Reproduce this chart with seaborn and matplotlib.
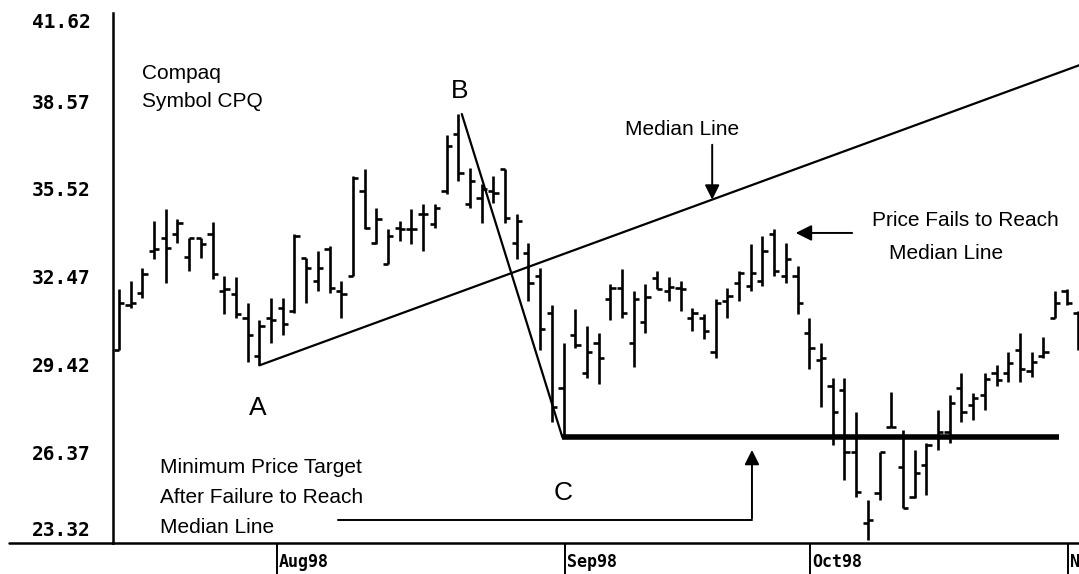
import numpy as np
import pandas as pd
import matplotlib
matplotlib.use('Agg')
import matplotlib.pyplot as plt
import seaborn as sns

# =============================
# DATA (daily OHLC, Compaq CPQ, Jul-Oct 1998)
# =============================
highs = [32.05, 32.33, 32.78, 34.41, 34.83, 34.48, 33.82, 33.82, 34.38, 32.51,
         32.47, 31.54, 30.95, 31.74, 31.74, 33.96, 33.13, 33.37, 33.55, 32.33,
         35.97, 36.21, 34.86, 34.13, 34.41, 34.83, 35.00, 35.00, 37.39, 38.12,
         36.25, 35.69, 35.97, 36.21, 34.65, 33.65, 32.78, 31.47, 30.18, 31.36,
         30.77, 30.50, 32.23, 32.75, 31.99, 32.23, 32.68, 32.47, 32.33, 31.40,
         31.19, 31.71, 32.09, 32.68, 33.61, 33.89, 34.13, 33.65, 32.85, 31.02,
         30.15, 28.94, 28.94, 27.76, 24.71, 26.37, 28.45, 27.13, 26.44, 26.68,
         27.83, 28.35, 29.14, 28.42, 29.14, 29.39, 29.84, 30.50, 29.84, 30.36,
         31.99, 32.05, 31.29]
lows = [29.91, 31.40, 31.74, 33.09, 32.26, 33.65, 32.68, 33.13, 32.40, 31.19,
        31.02, 29.49, 29.39, 30.15, 30.43, 31.22, 31.54, 31.99, 31.92, 31.02,
        32.51, 34.13, 33.61, 32.92, 33.72, 33.61, 33.37, 34.17, 35.35, 35.80,
        34.86, 34.34, 35.04, 34.34, 33.09, 31.64, 29.91, 27.41, 26.89, 30.01,
        28.94, 28.76, 30.95, 31.02, 29.32, 30.53, 32.05, 31.64, 31.29, 30.60,
        30.32, 29.66, 31.02, 31.64, 31.99, 32.16, 32.51, 32.26, 31.19, 29.28,
        27.93, 26.61, 25.40, 24.81, 23.32, 24.71, 27.24, 24.43, 24.78, 24.88,
        26.44, 26.68, 27.41, 27.48, 27.83, 28.69, 28.80, 28.80, 28.97, 29.63,
        31.02, 31.47, 29.91]
opens = [29.91, 31.47, 31.92, 33.37, 33.82, 33.96, 33.16, 33.82, 33.96, 31.99,
         31.88, 31.05, 29.73, 31.02, 31.40, 31.29, 33.13, 32.33, 33.44, 31.99,
         32.51, 35.45, 33.65, 32.92, 34.17, 34.13, 34.65, 34.31, 35.45, 37.43,
         35.00, 35.21, 35.45, 36.21, 33.65, 33.30, 32.51, 31.22, 28.59, 30.43,
         29.11, 30.18, 31.71, 32.09, 30.18, 30.88, 32.44, 31.99, 32.09, 31.05,
         31.02, 29.84, 31.64, 32.26, 32.16, 32.33, 33.96, 32.51, 32.51, 30.50,
         29.56, 28.69, 28.52, 26.37, 23.91, 24.95, 27.24, 25.85, 24.81, 25.92,
         26.89, 27.06, 28.59, 28.00, 28.35, 29.14, 29.11, 29.91, 29.21, 29.73,
         31.02, 31.99, 31.22]
closes = [31.57, 31.57, 32.57, 33.44, 33.48, 34.34, 33.82, 33.61, 32.57, 32.05,
          31.19, 30.43, 30.77, 30.95, 30.84, 33.89, 32.78, 32.78, 32.09, 31.88,
          35.90, 34.17, 34.48, 33.89, 34.13, 34.13, 34.65, 34.86, 37.01, 36.08,
          35.80, 35.52, 35.38, 34.52, 34.41, 32.26, 30.67, 27.93, 26.89, 30.11,
          29.84, 29.63, 32.09, 31.22, 31.71, 31.78, 32.05, 32.12, 32.05, 31.22,
          30.60, 31.54, 31.81, 32.61, 32.61, 33.37, 32.68, 33.09, 31.54, 29.98,
          29.63, 27.76, 26.37, 24.98, 24.01, 26.37, 27.24, 24.43, 25.64, 26.61,
          27.06, 28.07, 27.76, 28.24, 28.90, 28.87, 29.46, 29.28, 29.49, 29.84,
          31.57, 31.54, 30.25]

y_ticks = [23.32, 26.37, 29.42, 32.47, 35.52, 38.57, 41.62]
month_labels = ['Aug98', 'Sep98', 'Oct98', 'Nov98']
month_start = [13.5, 38.1, 59.1, 81.1]  # bar index where each month begins

# pitchfork points (bar index, price)
point_a = (12, 29.39)
point_b = (29.3, 38.12)
point_c = (37.9, 26.89)
median_end = (82.1, 39.82)
target_price = 26.89
target_end = 80.3

df = pd.DataFrame({'high': highs, 'low': lows, 'open': opens, 'close': closes})
df['day'] = np.arange(len(df))

# =============================
# PLOT
# =============================
sns.set_theme(style='white')
plt.rcParams['font.family'] = ['Liberation Sans', 'DejaVu Sans']
plt.rcParams['text.color'] = 'black'
plt.rcParams['xtick.color'] = 'black'
plt.rcParams['ytick.color'] = 'black'

fig = plt.figure(figsize=(10.79, 5.74), dpi=100)
ax = fig.add_axes([113 / 1079, 31 / 574, 966 / 1079, 530 / 574])

# OHLC bars
ax.vlines(df['day'], df['low'], df['high'], color='black', lw=1.9)
ax.hlines(df['open'], df['day'] - 0.45, df['day'], color='black', lw=1.9)
ax.hlines(df['close'], df['day'], df['day'] + 0.45, color='black', lw=1.9)

# median line and B-C leg
sns.lineplot(x=[point_a[0], median_end[0]], y=[point_a[1], median_end[1]],
             color='black', lw=1.6, estimator=None, sort=False, ax=ax)
sns.lineplot(x=[point_b[0], point_c[0]], y=[point_b[1], point_c[1]],
             color='black', lw=1.6, estimator=None, sort=False, ax=ax)
# minimum price target line
ax.plot([point_c[0], target_end], [target_price, target_price], color='black', lw=4, solid_capstyle='butt')

# labels A B C
ax.text(11.9, 27.90, 'A', fontsize=19, ha='center', va='center')
ax.text(29.1, 38.92, 'B', fontsize=19, ha='center', va='center')
ax.text(38.0, 24.95, 'C', fontsize=19, ha='center', va='center')

ax.text(1.97, 39.54, 'Compaq', fontsize=15, ha='left', va='center')
ax.text(1.97, 38.54, 'Symbol CPQ', fontsize=15, ha='left', va='center')

# Median Line annotation
ax.text(48.1, 37.60, 'Median Line', fontsize=15, ha='center', va='center')
ax.annotate('', xy=(50.7, 35.05), xytext=(50.7, 37.15),
            arrowprops=dict(arrowstyle='-|>', color='black', lw=1.4, mutation_scale=22))

# Price fails annotation
ax.text(72.3, 34.41, 'Price Fails to Reach', fontsize=15, ha='center', va='center')
ax.text(70.7, 33.27, 'Median Line', fontsize=15, ha='center', va='center')
ax.annotate('', xy=(57.6, 33.99), xytext=(62.9, 33.99),
            arrowprops=dict(arrowstyle='-|>', color='black', lw=1.4, mutation_scale=24))

# Minimum price target annotation
ax.text(3.5, 25.85, 'Minimum Price Target', fontsize=15, ha='left', va='center')
ax.text(3.5, 24.81, 'After Failure to Reach', fontsize=15, ha='left', va='center')
ax.text(3.5, 23.77, 'Median Line', fontsize=15, ha='left', va='center')
ax.plot([18.7, 54.1], [24.01, 24.01], color='black', lw=1.4)
ax.annotate('', xy=(54.1, 26.55), xytext=(54.1, 23.98),
            arrowprops=dict(arrowstyle='-|>', color='black', lw=1.4, mutation_scale=22))

# axes styling
ax.set_xlim(-0.51, 82.05)
ax.set_ylim(23.22, 41.63)
ax.set_yticks(y_ticks)
ax.set_yticklabels([f'{v:.2f}' for v in y_ticks], family='DejaVu Sans Mono',
                   fontweight='bold', fontsize=14, color='black')
ylabels = ax.get_yticklabels()
ylabels[0].set_va('bottom')
ylabels[-1].set_va('top')
ax.tick_params(axis='y', length=0, pad=16)
ax.set_xticks(month_start)
ax.set_xticklabels([])
ax.tick_params(axis='x', direction='out', length=22, width=1.4, color='black', bottom=True)
for pos, lab in zip(month_start, month_labels):
    ax.text(pos + 0.15, -0.035, lab, transform=ax.get_xaxis_transform(),
            family='DejaVu Sans Mono', fontweight='bold', fontsize=12,
            ha='left', va='center', clip_on=False)

for side in ['top', 'right']:
    ax.spines[side].set_visible(False)
for side in ['left', 'bottom']:
    ax.spines[side].set_color('black')
    ax.spines[side].set_linewidth(1.8)
# bottom rule continues under the price labels
ax.plot([-0.108, 0], [0, 0], transform=ax.transAxes, color='black', lw=1.8, clip_on=False)

plt.savefig('out.png', dpi=100)
plt.close()
